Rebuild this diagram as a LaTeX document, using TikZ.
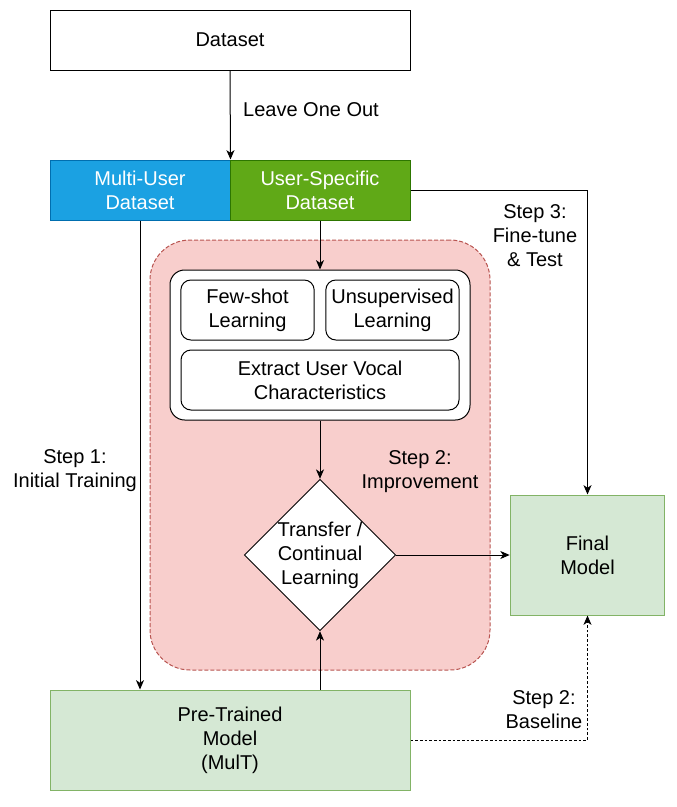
\documentclass[tikz,border=0pt]{standalone}
\usepackage{fontspec}
\setmainfont{Liberation Sans}
\usepackage{xcolor}
\usetikzlibrary{shapes.geometric,arrows.meta}

\definecolor{muBlue}{HTML}{1BA1E2}
\definecolor{muBlueLine}{HTML}{006EAF}
\definecolor{usGreen}{HTML}{60A917}
\definecolor{usGreenLine}{HTML}{2D7600}
\definecolor{modelFill}{HTML}{D5E8D4}
\definecolor{modelLine}{HTML}{82B366}
\definecolor{stageFill}{HTML}{F8CECC}
\definecolor{stageLine}{HTML}{B85450}

\tikzset{
    box/.style={draw, line width=0.75pt, inner sep=0pt, align=center},
    arr/.style={-{Stealth[length=7pt,width=6pt,inset=2pt]}, line width=0.75pt},
    lbl/.style={align=center, inner sep=0pt}
}

\begin{document}
\begin{tikzpicture}[x=0.75pt, y=-0.75pt, font=\fontsize{15}{18}\selectfont]
    \useasboundingbox (0,0) rectangle (677,807);

    % --- Datasets ---
    \node[box, fill=white, minimum width=270pt, minimum height=45pt] (data) at (230,40) {Dataset};
    \node[box, draw=muBlueLine, fill=muBlue, text=white,
          minimum width=135pt, minimum height=45pt] (multi) at (140,190) {Multi-User\\Dataset};
    \node[box, draw=usGreenLine, fill=usGreen, text=white,
          minimum width=135pt, minimum height=45pt] (user) at (320,190) {User-Specific\\Dataset};
    \draw[arr] (data.south) -- (multi.north east);
    \node[lbl] (leave) at (311,110) {Leave One Out};

    % --- Improvement stage ---
    \node[box, draw=stageLine, fill=stageFill, dashed, dash pattern=on 3pt off 1.5pt, rounded corners=30pt,
          minimum width=255pt, minimum height=322.5pt] (stage) at (320,455) {};
    \node[box, fill=white, rounded corners=11pt, minimum width=225pt, minimum height=112.5pt] (inner) at (320,345) {};
    \node[box, fill=white, rounded corners=7.5pt, minimum width=100pt, minimum height=45pt] (few) at (247.5,310) {Few-shot\\Learning};
    \node[box, fill=white, rounded corners=7.5pt, minimum width=100pt, minimum height=45pt] (unsup) at (392.5,310) {Unsupervised\\Learning};
    \node[box, fill=white, rounded corners=7.5pt, minimum width=208.5pt, minimum height=45pt] (vocal) at (320,380) {Extract User Vocal\\Characteristics};
    \node[box, fill=white, diamond, aspect=1, minimum width=112.5pt, minimum height=112.5pt] (trans) at (320,555) {Transfer /\\Continual\\Learning};
    \node[lbl] (impr) at (420,472) {Step 2:\\Improvement};

    % --- Models ---
    \node[box, draw=modelLine, fill=modelFill, minimum width=270pt, minimum height=75pt] (pre) at (230,740) {Pre-Trained\\Model\\(MulT)};
    \node[box, draw=modelLine, fill=modelFill, minimum width=116pt, minimum height=90pt] (final) at (587.5,555) {Final\\Model};

    % --- Connectors ---
    \draw[arr] (user.south) -- (inner.north);
    \draw[arr] (inner.south) -- (trans.north);
    \draw[arr] (pre.north -| trans.south) -- (trans.south);
    \draw[arr] (trans.east) -- (final.west);
    \draw[arr] (multi.south) -- (multi.south |- pre.north);
    \node[lbl] (step1) at (75,471) {Step 1:\\Initial Training};
    \draw[arr] (user.east) -| (final.north);
    \node[lbl] (step3) at (535,236) {Step 3:\\Fine-tune\\\& Test};
    \draw[arr, dash pattern=on 2pt off 1.5pt] (pre.east) -| (final.south);
    \node[lbl] (step2) at (544,710) {Step 2:\\Baseline};
\end{tikzpicture}
\end{document}
